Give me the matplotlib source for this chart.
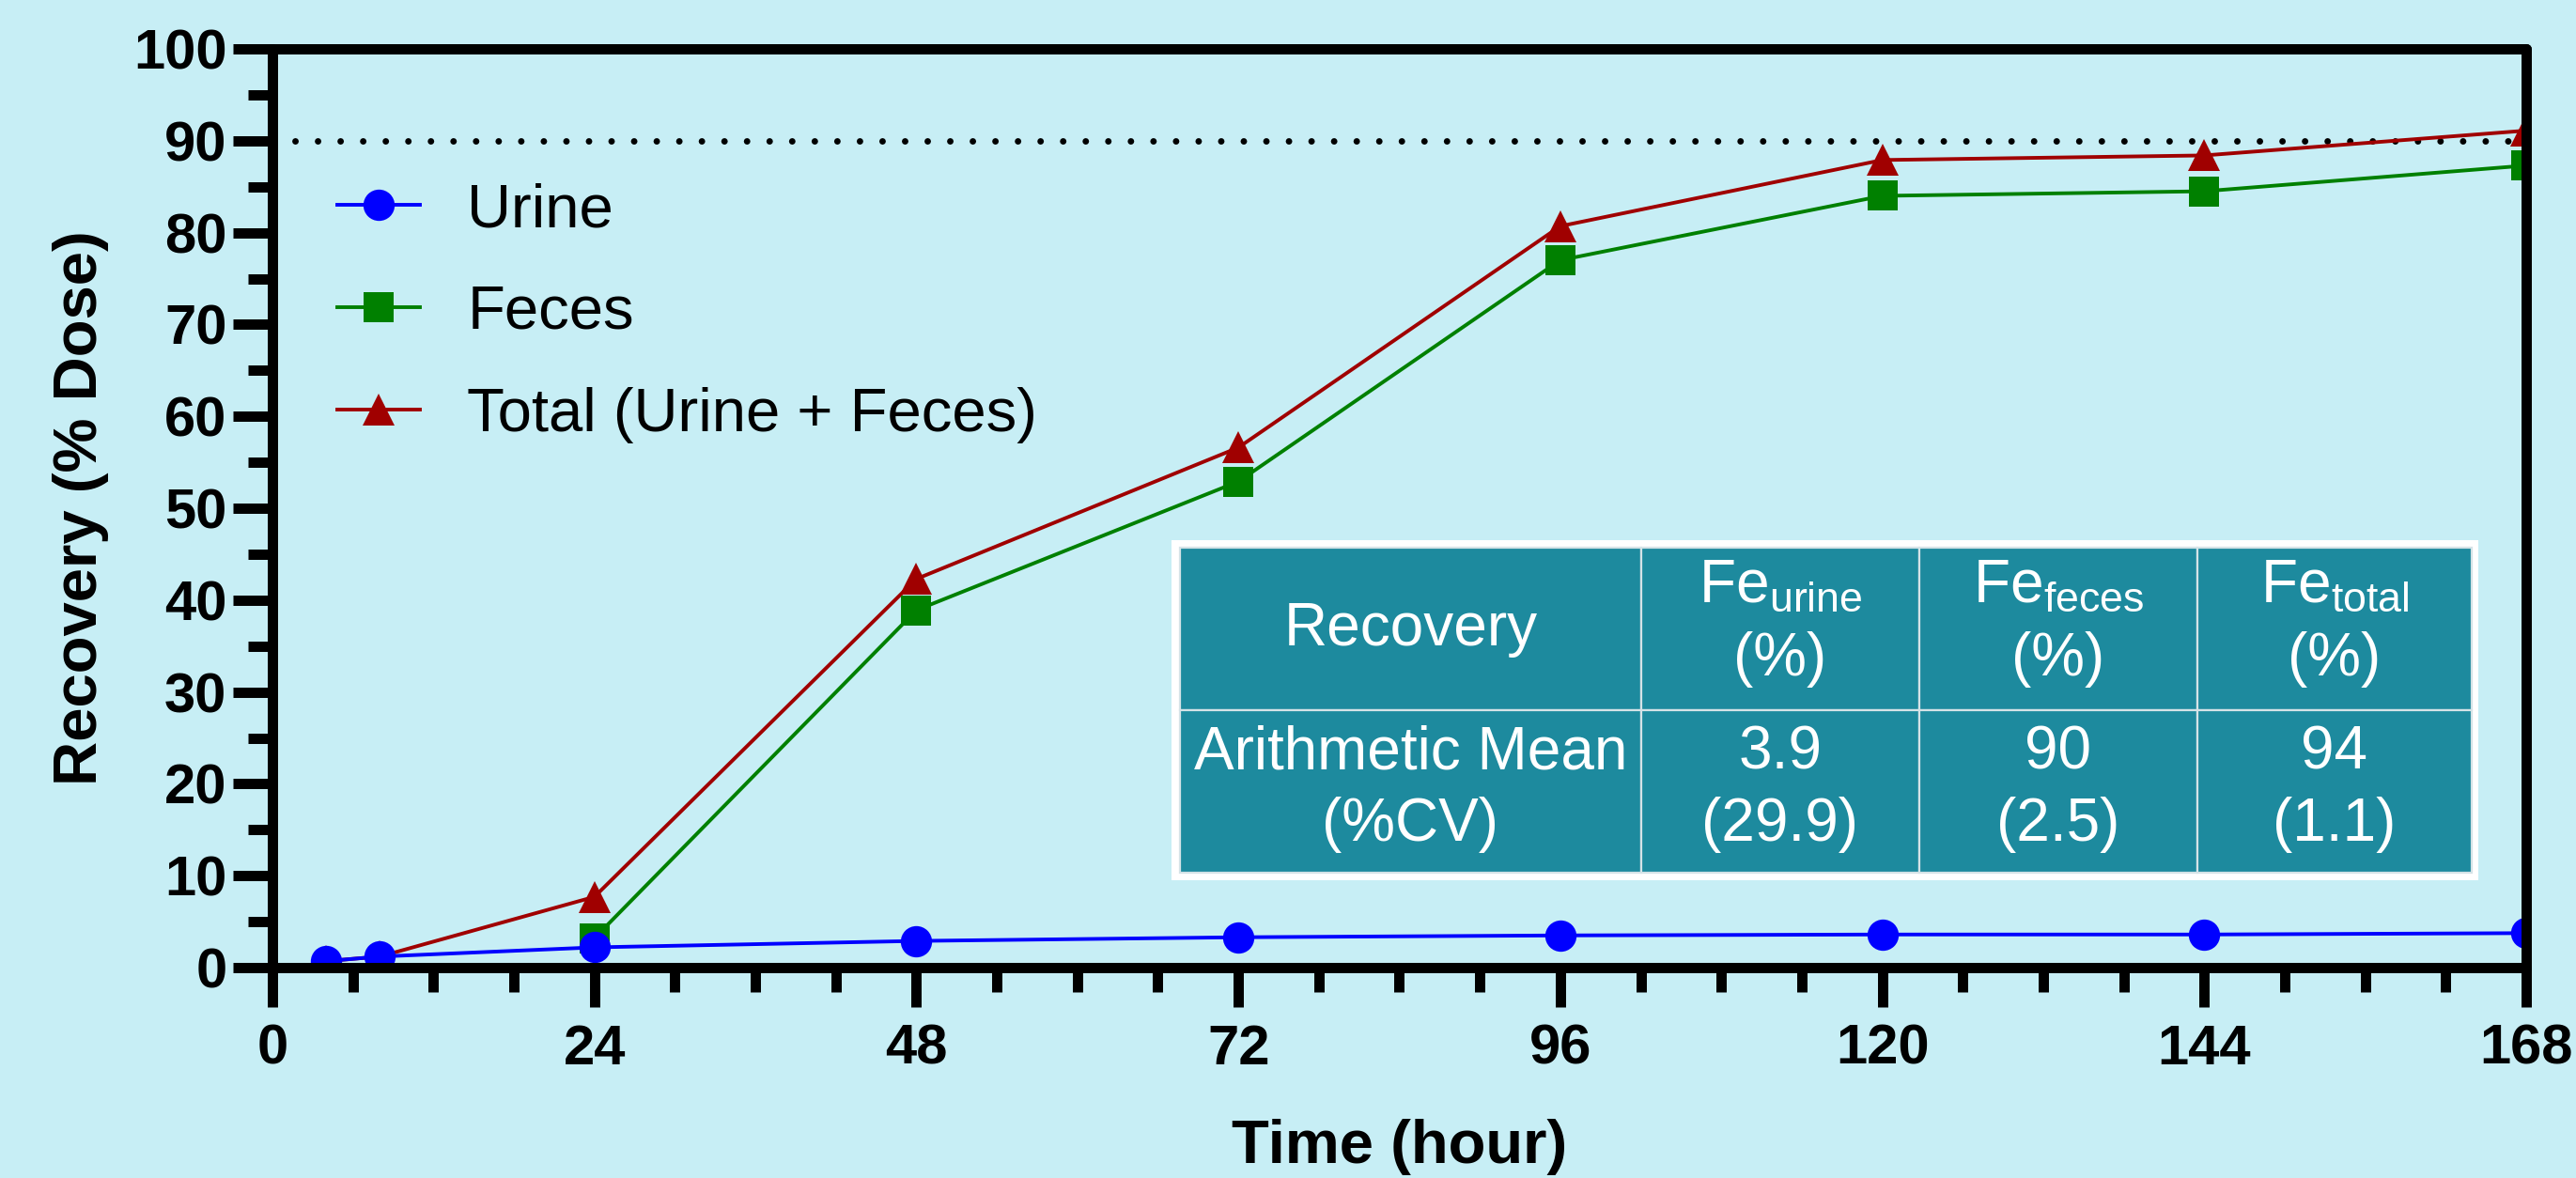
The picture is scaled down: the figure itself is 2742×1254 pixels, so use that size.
import numpy as np
import matplotlib.pyplot as plt
from matplotlib.patches import Rectangle

plt.rcParams['font.family'] = ['Liberation Sans', 'DejaVu Sans']
plt.rcParams['mathtext.default'] = 'regular'

# data
urine_t = [4, 8, 24, 48, 72, 96, 120, 144, 168]
urine = [0.7, 1.2, 2.2, 2.9, 3.3, 3.5, 3.6, 3.6, 3.75]
feces_t = [24, 48, 72, 96, 120, 144, 168]
feces = [3.2, 38.9, 52.9, 77.0, 84.0, 84.5, 87.3]
total_t = [4, 8, 24, 48, 72, 96, 120, 144, 168]
total = [0.7, 1.2, 7.7, 42.3, 56.6, 80.7, 87.9, 88.4, 91.1]
ref_level = 90

xticks = [0, 24, 48, 72, 96, 120, 144, 168]
yticks = list(range(0, 101, 10))

tbl_header = ['Recovery', 'Fe$_{urine}$\n(%)', 'Fe$_{feces}$\n(%)', 'Fe$_{total}$\n(%)']
tbl_row = ['Arithmetic Mean\n(%CV)', '3.9\n(29.9)', '90\n(2.5)', '94\n(1.1)']

bg = '#c7eef5'
teal = '#1d8a9e'

W, H = 2742, 1254
fig = plt.figure(figsize=(W / 100, H / 100), dpi=100, facecolor=bg)

def fx(x):
    return x / W

def fy(y):
    return 1 - y / H

ax_l, ax_r, ax_t, ax_b = 290, 2689, 52, 1030
ax = fig.add_axes([fx(ax_l), fy(ax_b), fx(ax_r - ax_l), (ax_b - ax_t) / H])
ax.set_facecolor(bg)

lt, = ax.plot(total_t, total, color='#a00000', lw=2.8, marker='^', ms=24,
              mew=0, zorder=2)
lf, = ax.plot(feces_t, feces, color='#008000', lw=2.8, marker='s', ms=23,
              mew=0, zorder=2.1)
lu, = ax.plot(urine_t, urine, color='#0000ff', lw=2.8, marker='o', ms=24,
              mew=0, zorder=2.2)
ax.axhline(ref_level, color='black', lw=5, linestyle=(0, (0.001, 3.46)),
           dash_capstyle='round', zorder=1.5)

ax.set_xlim(0, 168)
ax.set_ylim(0, 100)
ax.set_xticks(xticks)
ax.set_xticks(np.arange(0, 169, 6), minor=True)
ax.set_yticks(yticks)
ax.set_yticks(np.arange(0, 101, 5), minor=True)

for sp in ax.spines.values():
    sp.set_linewidth(7.9)
    sp.set_capstyle('round')
    sp.set_zorder(3)

ax.tick_params(which='major', length=30, width=7.9, color='black')
ax.tick_params(which='minor', length=18.7, width=7.9, color='black')
ax.tick_params(axis='x', which='major', pad=13, labelsize=43)
ax.tick_params(axis='y', which='major', pad=5, labelsize=43)
for lab in ax.get_xticklabels() + ax.get_yticklabels():
    lab.set_fontweight('bold')

ax.set_xlabel('Time (hour)', fontsize=47, fontweight='bold')
ax.set_ylabel('Recovery (% Dose)', fontsize=47, fontweight='bold')
ax.xaxis.label.set_va('baseline')
ax.xaxis.set_label_coords(0.5, (ax_b - 1238) / (ax_b - ax_t))
ax.yaxis.label.set_va('baseline')
ax.yaxis.set_label_coords((103 - ax_l) / (ax_r - ax_l), 0.5)

ax.legend([lu, lf, lt], ['Urine', 'Feces', 'Total (Urine + Feces)'],
          loc='upper left', bbox_to_anchor=(fx(359), fy(194)),
          bbox_transform=fig.transFigure, frameon=False, fontsize=47,
          handlelength=1.35, handletextpad=0.77, labelspacing=0.75,
          borderpad=0, borderaxespad=0)

# summary table
tx0, tx1, ty0, ty1 = 1247, 2638, 575, 937
tax = fig.add_axes([fx(tx0), fy(ty1), fx(tx1 - tx0), (ty1 - ty0) / H])
tax.set_xlim(tx0, tx1)
tax.set_ylim(ty1, ty0)
tax.axis('off')
tax.add_patch(Rectangle((tx0, ty0), tx1 - tx0, ty1 - ty0, color='white', lw=0))
col_edges = [1256, 1747, 2043, 2339, 2631]
row_edges = [583, 756, 929]
for r, texts in enumerate([tbl_header, tbl_row]):
    y0, y1 = row_edges[r], row_edges[r + 1]
    for c, txt in enumerate(texts):
        x0, x1 = col_edges[c], col_edges[c + 1]
        tax.add_patch(Rectangle((x0, y0), x1 - x0, y1 - y0, facecolor=teal,
                                edgecolor='#d5e3e7', lw=1.6))
        lines = txt.split('\n')
        cx = (x0 + x1) / 2
        if len(lines) == 1:
            tax.text(cx, 687, lines[0], color='white', fontsize=46,
                     ha='center', va='baseline')
        else:
            base = [641, 719] if r == 0 else [818, 895]
            for ln, b in zip(lines, base):
                tax.text(cx, b, ln, color='white', fontsize=46,
                         ha='center', va='baseline')

fig.savefig('out.png', dpi=100, facecolor=bg)
